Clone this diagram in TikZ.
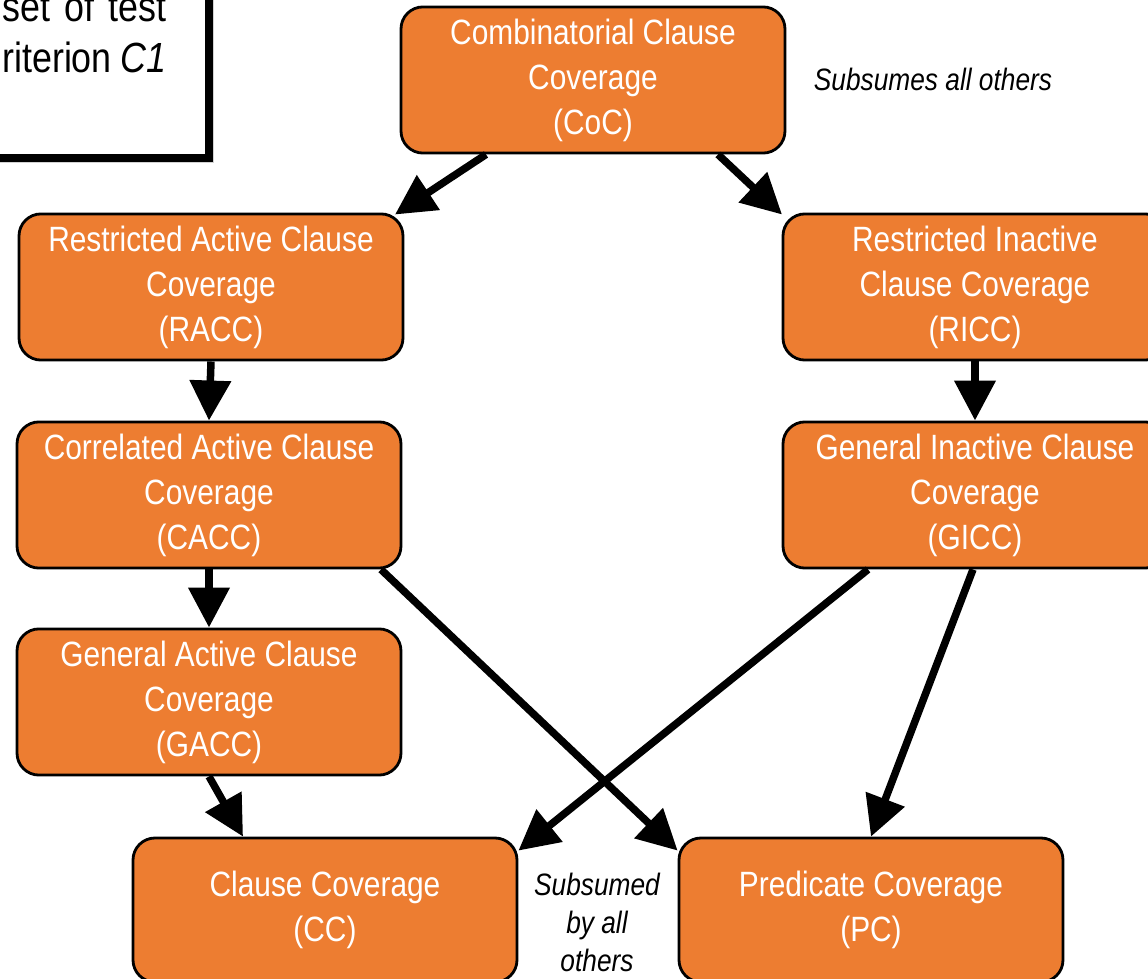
\documentclass[tikz,border=0pt]{standalone}
\usepackage{fontspec}
\setmainfont{Liberation Sans}[FakeStretch=0.85]
\usepackage{tikz}
\usetikzlibrary{arrows.meta}
\usetikzlibrary{shadows}
\usetikzlibrary{positioning}
\definecolor{critorange}{HTML}{ED7D31}

\begin{document}
\begin{tikzpicture}[
    crit/.style={draw=black,line width=0.8pt,fill=critorange,rounded corners=0.22cm,
      minimum width=3.84cm,minimum height=1.44cm,text=white,align=center,
      font=\fontsize{10}{12.8}\selectfont,
      execute at begin node={\rule{0pt}{9pt}}},
    arr/.style={line width=0.075cm,-{Triangle[length=0.40cm,width=0.40cm]}},
    remark/.style={align=center,font=\fontsize{8.8}{10.8}\selectfont\itshape}]
      \clip (0,0) rectangle (11.48,-9.79);
      %% note box, cut by the frame
      \draw[line width=0.08cm,fill=white,
        drop shadow={shadow xshift=0.05cm,shadow yshift=-0.05cm,fill=black!35}]
        (-0.5,0.5) rectangle (2.085,-1.585);
      \node[anchor=base east,inner sep=0,text width=1.64cm,align=left,
        font=\fontsize{12}{14.5}\selectfont] (note) at (1.67,-0.22)
        {set\hfill of\hfill test\\ riterion\hfill \textit{C1}};
      %%
      \node[crit](CoC) at (5.93,-0.80) {Combinatorial Clause\\Coverage\\(CoC)};
      \node[crit](RACC) at (2.11,-2.87) {Restricted Active Clause\\Coverage\\(RACC)};
      \node[crit](RICC) at (9.75,-2.87) {Restricted Inactive\\Clause Coverage\\(RICC)};
      \node[crit](CACC) at (2.09,-4.95) {Correlated Active Clause\\Coverage\\(CACC)};
      \node[crit](GICC) at (9.75,-4.95) {General Inactive Clause\\Coverage\\(GICC)};
      \node[crit](GACC) at (2.09,-7.02) {General Active Clause\\Coverage\\(GACC)};
      \node[crit](CC) at (3.25,-9.10) {Clause Coverage\\(CC)};
      \node[crit](PC) at (8.71,-9.10) {Predicate Coverage\\(PC)};
      %%
      \node[remark](top) at (9.33,-0.79) {Subsumes all others};
      \node[remark](bottom) at (5.97,-9.22) {Subsumed\\by all\\others};
      %%
      \draw[arr]([xshift=-1.07cm]CoC.south)--([xshift=1.84cm,yshift=-0.02cm]RACC.north);
      \draw[arr]([xshift=1.25cm]CoC.south)--([xshift=-1.93cm,yshift=-0.02cm]RICC.north);
      \draw[arr](RACC.south)--(CACC.north);
      \draw[arr](RICC.south)--(GICC.north);
      \draw[arr](CACC.south)--(GACC.north);
      \draw[arr]([xshift=1.72cm]CACC.south)--([yshift=-0.14cm]PC.north west);
      \draw[arr]([xshift=-1.07cm]GICC.south)--([yshift=-0.14cm]CC.north east);
      \draw[arr]([xshift=-0.02cm]GICC.south)--(PC.north);
      \draw[arr](GACC.south)--([xshift=-0.82cm]CC.north);
    \end{tikzpicture}
\end{document}
